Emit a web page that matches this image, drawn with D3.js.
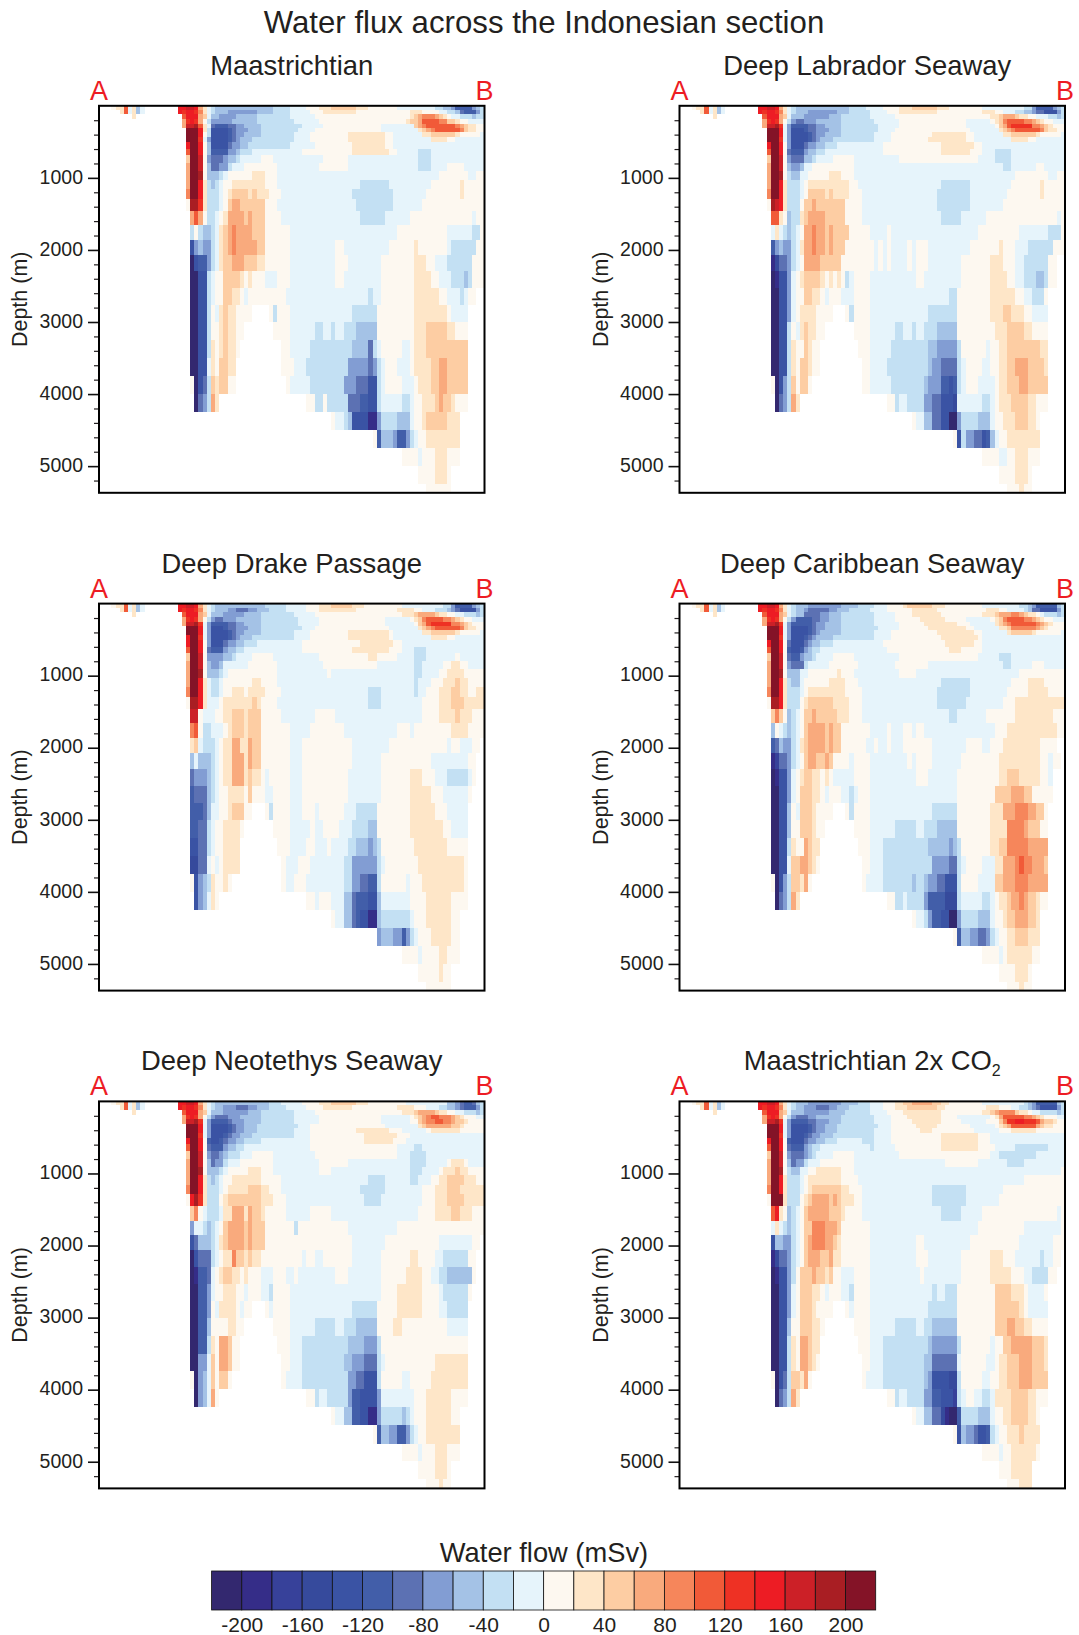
<!DOCTYPE html>
<html>
<head>
<meta charset="utf-8">
<script src="https://cdnjs.cloudflare.com/ajax/libs/d3/7.8.5/d3.min.js"></script>
<style>
html, body { margin: 0; padding: 0; background: #fff; }
svg { display: block; }
text { font-family: "Liberation Sans", Arial, sans-serif; fill: #231f20; }
</style>
</head>
<body>
<div id="chart"></div>
<script>
// colour classes of the water flow in mSv
var flowBreaks = [-200,-180,-160,-140,-120,-100,-80,-60,-40,-20,0,20,40,60,80,100,120,140,160,180,200];
var flowColors = ["#33286f","#352d88","#37419a","#364a9c","#3a53a4","#425ea9","#5c71b3","#829dd3","#a4c2e6","#c3e0f3","#e6f4fb",
                  "#fdf8f0","#fee6c8","#fdcda3","#f9aa7d","#f6865b","#f15a38","#ee3124","#ed1c24","#cc2027","#a91e23","#841327"];
var legendTicks = [-200,-160,-120,-80,-40,0,40,80,120,160,200];
var depthMajor = [1000,2000,3000,4000,5000];
var depthMinor = [200,400,600,800,1200,1400,1600,1800,2200,2400,2600,2800,3200,3400,3600,3800,4200,4400,4600,4800,5200];

var classLetters = "abcdefghijklmnopqrstuv";
var classValues = [-210,-190,-170,-150,-130,-110,-90,-70,-50,-30,-10,10,30,50,70,90,110,130,150,170,190,210];

// model level edges in metres
var levelEdges = [0,55,120,185,250,310,370,435,504,597,689,795,911,1027,1156,1290,1457,1656,1859,2068,2299,2530,2771,3006,3256,3501,3746,3996,4246,4496,4750,4995,5245,5365];
var columnCount = 93;
var depthBottom = 5370;

// one string per level, letter + run length along the section A to B
var maastrichtian = [
".3lm2qkmik.8s2t2somkji14j4k4l3m3n6m3l7k9j2i2hf4hij",
".5mqkmik.8srs2rpmkji3h7i4j4k5l3m8l13m3l4k2j2igf3hj",
".8m.11qs3onki2h4i5j8k6l23mnop3onmlk2j3ij2",
".20orsroljh5i6j9k6l21mn2oq4p2n2ml2k4",
".20ot2uqmkgf3g2h2i4j10k5l14k8nopq7ponm2l2",
".21v3smje4fgh3i3j9k4l16k9mnopq6pnm2l2",
".21v3slje4fgh2i4j8k4l9m9l2k7m2n6ml5k",
".21v3rkhe4fghi3j10k4l9m9l2k9m4l2k7",
".21sv2slie4gh2i2j10k6l9m8l2k22",
".21qv2slif4h2ij3k12l12m9l2k5j3k13",
".21nv2tlhg3hi2jk5l3k12l6k17j3k13",
".21ov2tlig2h2jk3l8k10l7k17j3k4l4k5",
".21ov2uli3jkl6m3l3k39l7k2l2",
".21ov2smjijkl2m8l3k20j7k10l7ml5",
".21pv2smj3klmn4mnm3l3k17j10k8l8ml5",
".21lu2rmj3klno2n6l3k19j9k7l15",
".22oqolj2klmo4non3l4k19j6k6l15kl2",
".22jlji2jkmnopo4n3l6k26l12k6j2l",
".22ehih2jkmnopo5n2l6k11l2k11l6ml7kj6l2",
".22aef2hjkmn2o3n3m2l6k11l3k8l8m3l2k3j6l3",
".22a2e2jkl2n4mlml3k3l3k11l2k9l8m4l2k3j3ijl3",
".22a2e2jkl2n2m2lkl9k20jk2l8m6l2k3jkl2.2",
".22a2e2jlkmnm2l4.4ljl3k15j6l9m8lk4.4",
".22a2e2jl2mnm2l2.7l4k6j2k2jk2j3i5l9m3n5m2l3.4",
".22a2e2jmlmnm2l.10l2k5j10i4gjkl5k2lm3n10.4",
".22a2e2kmln2m2.11l3k3j10h5ghjkl3k3lm4n2o2n5.4",
".22laegjnmn2l2.12lk5j8h3g3e2jkl4k3lm3n2o2n5.4",
".23aghjom.21l2j2lj5g3f2e2jk5j2kl2m3non2ml3.4",
".56lk2jie4b2hj4i3kl2mn5m3.6",
".66lfi3hf2hjkl2m8.6",
".73l4kl3m3l3.6",
".77l4m3l.8",
".79l6.8"];

var deepLabrador = [
".3lm2qkmik.8s2t2somkji13j4k4l4m3n6m3l8k10j2hf4hij",
".5mqkmik.8srs2rpmkji3h7i3j5k4l3m9l11m3l2k3j2i2hg2e3hj",
".8m.11qs3onki3h6i3j7k6l23m2no3nm2l2k3j2ij",
".20orsroljhg2h3i6j8k6l16k6lmnpq4p2onml2k3",
".20ot2urkhf4g2h2i4j9k5l16k7lnoqr5p2onml3",
".21v3skhe3fg2h3i3j9k4l18k7mnopq6pnm2l2",
".21v3skhe4fgh2i4j8k4l10m8l2k7m2n6ml5k",
".21v3rkhe4fghi3j10k4l9m9l2k9m4l2k7",
".21sv2slhe3gh2i2j3k11l14m8l2k20",
".21qv2slgf3hi2j2k14l14m7l3k3j4k13",
".21nv2tlhg3i2jk4l5k11l19k4j4k13",
".21ov2tlih2ik2l10k36j2k6l2k5",
".21ov2ulji2k2l5m3l3k39l8k2l2",
".21ov2smj3klm10l2k20j7k10l7ml5",
".21pv2smj3kln4mnm4l3k18j8k9l8ml5",
".21lutsmj3ln2on7l4k18j8k8l15",
".22q2mlij2mno4n5l4k19j5k6l17kl",
".22kmkjijklo2po2non4l5k4lk21l10k7j3l",
".22fhih2jkmo2po2non3l7klklk4lkl3k10l7ml3k3j6l3",
".22bdg2hjklo4n5l8klklk4lkl3k8l7m3l3k2j6l2.2",
".22abe2hklmn4mlmlmljkl4k11l2k9l7m4l2k2j3i2jl2.2",
".22a2e2hkl2n2m2lkl3k3l4k19j2l8m6l2k2j3l.4",
".22a2e2hklm4l4.3ljl4k14j7l8m3n2m3l2k4.4",
".22a2e2jlkmnm2l2.7l4k6j2k2jk2j3i5l9m3n4m2l4.4",
".22a2e2jml2nml2.9l3k5j9i2h5jl6kl2m2n8m2.4",
".22a2e2jmln2ml2.10l2k4j10ih2g4jkl4k2l2m2n2o3n4m.4",
".22laehjnln2l.12l2k5j8ih3f2efjkl3k4lm2n3o2n5.4",
".23aghjom.21l2jk2j4h2g2e3dk6j2klm3n4m2l3.4",
".56lk2i2g2e2a2hj4i3kl2m3n3m2l.6",
".66lejh2g2efikl2m8.6",
".73l4k2l2m3l3.6",
".77l4m3l.8",
".79l3ml2.8"];

var deepDrake = [
".3lm2qkmik.8s2t2somkji12j5k5l3m3n5m3l9k10j2hf4hij",
".5mqkmik.8srs2rpmkji3h2g3h2i3j4k5l3m9l10m4l2k3j3ihge4hj",
".8m.11qs3onki3h5i4j8k5l21m3no4nm2l2k2j3ij",
".20orsroljhg2h3i6j9k5l16k6lmnpq4p2onml2k3",
".20ot2urkhf4g2h2i4j9k5l16k7lnoqr5p2onml3",
".21v3skhe3fg2h3i3j10k3l18k7mnopq6pnm2l2",
".21v3skhe4fgh2i4j8k4l9m10lk7m2n6ml5k",
".21sv2rkhe4fghi3j10k4l9m10lk9m4l2k7",
".21sv2slhe3gh2i2j3k11l14m8l2k20",
".21qv2slgf3hi2j2k14l12m9l3k3j3k14",
".21nv2tlh4i2jk4l5k11l12m2l5k4j3k7lk6",
".21ov2tlih2ik6l7k11l13k9j2k5l2m2l2k4",
".21ov2uli3jkl12k12lk20j2k4l2m4l5",
".21ov2smkj2kl7m2l4k33jk3l3m3nm2l4",
".21pv2smkj2kl2m3lm4l4k21j3k8jk2l3m3n2m2l2m2",
".21lu2smk3lm7nml4k22j3k10l4m3n3m5",
".22t2lk3l2m2n3mn3l5k8l5k21l4m4nm3l3",
".22pqlj2k3lmn3mn3l7k5l8k13l3kl9m4l4",
".22mnkj3klm2o2m2on2l7k3l12k9l14kl2k3l2.",
".22iki3jklm2o3mon2l7k3l12k7l12k9l2.2",
".22gh3ijklm2o3mnm2lkl5k3l11k8l7m3l3k3j5kl.2",
".22fg3ijkl2m4lnl3k2l4k3l11k8l7m5l3k6l.3",
".22f3gik2l2mn3l2.3ljl4k3l3kl6k3j5l8m6l3k5.4",
".22f2g2jkl2m4l.7l4k5lk2l4k3j4i2l8m8l2k4.4",
".22e2g2jkl2m4.9l3k4l2k3lk4j2i3hijl8m8l5.4",
".22d2g2klklm4.10lk3l3k8j2h6jkl8m11l.4",
".22lehijml2ml.12lk2l3k9j2h2g2f2jl6kl3m10l.4",
".23ehikml.21l2kl3k3i2gf3e2ik7l4m6l4.4",
".56lk2i2gfe2b2ij7kl3m6l2.6",
".67hi3h2fhjkl3m5l2.6",
".73l4kl4m2l3.6",
".77l5ml2.8",
".79l6.8"];

var deepCaribbean = [
".3lm2qkmik.8s2t2somkji3h8i4j4k3l4mn6m3l9k9j2ihf5ij",
".5mqkmik.8srs2rpmkji2hg5h2i3j5k4l6m6l12m3l2k4jig2e4hj",
".8m.11qs3onkji2g4h2i3j8k5l4m7l10m3no3p2onm2lkj3ij",
".20orsroljhf4g2h2i3j8k5l6m6l5k6lmnpq4p2onml2k3",
".20ot2urkhf4fgh2i4j8k6l6m8l3k6mnopq6ponml3",
".21v3skhe4fgh2i4j9k5l7m9l2k6m2np6onml4",
".21v3skhe4fghi5j8k4l11m9l2k6mn5ml6k",
".21v3rkhe3fghi4j10k4l12m9lk20",
".21sv2slge3ghi2j3k12l15m7l2k20",
".21qv2slfe2fhij2k16l15m3l5k20",
".21nv2tlgf2hi2jk4l5k11l19k5j3k13",
".21ov2tlhg3jk5l7k9l8k18j2k5l3k5",
".21ov2uli3k2l7ml3k11l4k25l11",
".21ov2smji2kl6m4l3k20j7k10l4m4l5",
".21pv2smj3klm9l4k18j8k9l5m5l4",
".21lu2smj3lmn6m4l3k18j7k9l3m12",
".22npnlijkln2on5m3l3k21j2k7l7m9l3",
".22ilkjijklno4non2l7k4lk3l2kl2k17l3m12l2",
".22fgih2jkmno4non2l6k2lk2lk3l7k8l4k2l3m9l4.2",
".22bcg2hjklno2n2onl4kl4k9lkl4k7l9m10l2kl2.",
".22abe2hklmn2m2lmlk5l4k11l3k7l10m2n3m5l2k.3",
".22a2e2hkln3m2lkl3k2jkl3k21l9n4o3n2l5.3",
".22a2e2ilkn3ml4.3ljl4k15j6l8m3o3p3o2n2l.4",
".22a2e2il2n3ml2.7l4k6j5k2j3i5l8m4p4on3l2.4",
".22a2e2jml2onm2.9l3k3j11i5hijl7m2n2p5o5.4",
".22a2e2kn2o2nml.10l2k3j12h4g2jkl4k3m2o3pqp2o3n.4",
".22laehjn2mol.12lk4j7ij2ih2g2e3jl4k4n2o3p3o5.4",
".23aghjom.21l2j2kj4hf4d3jk5j2klm2no2pon2ml2.4",
".56lk2jhf2e2a2hj4i3kl2mn2o3n2m.6",
".66lfi2h2g2hjkl2m2n3m3.6",
".73l4klm6l2.6",
".77l4m3l.8",
".79l3ml2.8"];

var deepNeotethys = [
".3lm2qkmik.8s2t2somkji13j3k5l4m3n6m3l9k10i2hgf2gij",
".5mqkmik.8srs2rpmkji2h3g3h2i3j4k5l4m7l11m4l3k3j2i2hgf3hj",
".8m.11qs3onki3h6i3j8k5l21m3no4nm2l2k2j3ij",
".20orsroljhg3h3i5j8k6l15k7lmnopq2p3onml3k2",
".20ot2urkhf4gh3i4j8k6l15k7l2nop2q2p2on2ml4",
".21v3skhe4fgh2i3j10k3l18k8mno6n2ml5",
".21v3skhe4fgh2i3j9k4l11m8l3k6lm7l6",
".21v3rkhe3fgh2i3j10k4l13m8l3k18",
".21sv2slfe2fgh2i2j4k12l13m7l3k19",
".21qv2slgf3hi2j2k16l21k4j2k15",
".21nv2tlhg2hij3k3l5k10l20k3j4k14",
".21ov2tligh2jk3l8k11l7k15j4k5lm3lk4",
".21ov2uli3jkl5m3l3k11l3k19j3k4lm3nm2l4",
".21ov2smjijkl2m7l5k21j4k6j2k3l2m2n4m3l2",
".21pv2smj3klm5n3m2l3k19j6k9l3m3n3m6",
".21lsurmj3lmn8m3l3k19j4k10l3m3n4m5",
".22nplkj3km2o3mon2ml5k6l5k21l4m4n2m3l3",
".22hk2jijklno4non3l7jl12k12l21",
".22egi3jkmno4non3l21k8l13k8l2.",
".22aeg3jklm2pn2mnm2l10kl2k2l7k7l7m2l4k2j6l2.2",
".22abf2gklmn2m2lml3k3l3k2lk9l3k8l6m4l2k2j2i6l.2",
".22a2f2hkl2m3l2kl3k2jl4k22l4m6l4kj6l.3",
".22a2f2hlkm4lkl2.3lkl4k15j6l5m6l4k2j5.4",
".22a2f2il4m2l2.7l4k6j5k2j3i5l4m2l11k5.4",
".22a2f2jmlo2nl2.9l3k3j11i4h3jl21.4",
".22a2h2knlo2nl2.10l2k3j10i2h3g3jkl12m8.4",
".22lahiknln2l.12lk4j11h2g2e3jl5k2l5m9.4",
".23ahikol.21l2jk2j5hf2e4hk8l3m6l4.4",
".56lk2i2f2e2b2hj5ijkl3m6l2.6",
".66lfi2h2f2hjkl2m8.6",
".73l4kl3m3l3.6",
".77l4m3l.8",
".79l3ml2.8"];

var doubledCO2 = [
".3lm2qkmik.8s2t2somkji3h8i4j3k3l3m2n2o5n2m2l8k10jihf5ij",
".5mqkmik.8srs2rpmkji2h3g3h2i3j5k3l3m3n7m2l10m3l3k2j2ihge4hj",
".8m.11qs3onki3h6i4j6k4l4m9l10m2nop4nm2lk2j4ij",
".20orsroljhg3h2i6j8k4l4m8l4k8lmoq5p2onml3k2",
".20ot2urkhf4g2h3i3j8k4l5m7l5k6l3npr2s2r3qon2ml2",
".21v3skhe4fgh2i3j10k3l6m5l8k6lmnoq6onm2l3",
".21v3skhe4fgh2i3j9k4l7m3l10k6l3m6l7",
".21v3rkhe3fgh2i3j10k4l12m9l3k18",
".21sv2slfe3gh2i2j3k6j3k4l12m9l3k18",
".21qv2slgf3hij2k12jk5l11m9l4k5j8k4",
".21nv2tlhg3hijk4l5k11l22k2j9k7",
".21ov2tligh2jk3l8k22l8k7j4k10",
".21ov2ulji2k2l2m6l3k50l",
".21ov2smj3klm8l4k40l10",
".21pv2smj3klmn7m2l3k17j8k9l15",
".21lv3mj3lmno4nonm3l2k17j8k8l16",
".22qsmlijklno5n3ml4k19j5k5l18kl",
".22kmkjijkln2p3o3nl7k26l11k9l",
".22ei2h2jklnop3o2nml7k11l2k11l12k8l3",
".22bdg2hjklno3n2om2l7k11l3k8l7m3l3k6jk2l2.",
".22abe2hjln3on2mnl2k3l4k12lk9l7m5l3k2j4l2.2",
".22a2e2hkln3m2lkl3k2jl4k15jk2j3l9n4m3lk4l.4",
".22a2e2hkln3ml4.3lkl4k14j7l9n6mlk5.4",
".22a2e2il2n3m2l.7l4k6j5k2j2i6l9n3o2n2m2l4.4",
".22a2e2jmlo2nm2.9l3k3j11ih6jl7kl2n2o5n3m.4",
".22a2e2jmlo2nml.10l2k3j10i2g6kl6k2lm2n3o3n3m.4",
".22laegjn2mol.12lk4j10ihe4d2jl5k2l2m2n3o3n4.4",
".23aghjom.21l2jk2j4h2f2e3cjkl2k2j2km4n4m2l3.4",
".56lk2i2g2dba2fj4i3kl2m2n4m2l.6",
".66leih2ge2fjkl2m3nm4.6",
".73l4kl2m6l.6",
".77l3m5.8",
".79l3m3.8"];

var panelTitles = ["Maastrichtian","Deep Labrador Seaway","Deep Drake Passage","Deep Caribbean Seaway","Deep Neotethys Seaway","Maastrichtian 2x CO"];
var panelRows = [maastrichtian,deepLabrador,deepDrake,deepCaribbean,deepNeotethys,doubledCO2];

var svgWidth = 1079, svgHeight = 1635;
var plotWidth = 385.5, plotHeight = 387;
var colLeft = [99, 679.5];
var rowTop = [105.8, 603.6, 1101.4];
var titleShift = [0, -5, 0, 0, 0, 0];

var svg = d3.select("#chart").append("svg").attr("width", svgWidth).attr("height", svgHeight);

var color = d3.scaleThreshold().domain(flowBreaks).range(flowColors);
var xCol = d3.scaleLinear().domain([0, columnCount]).range([0, plotWidth]);
var yDepth = d3.scaleLinear().domain([0, depthBottom]).range([0, plotHeight]);

// turn one run-length row into cells
function decodeRow(row, level){
    var cells = [], col = 0, m, re = /([a-v.])(\d*)/g;
    while((m = re.exec(row)) !== null){
        var n = m[2] === "" ? 1 : +m[2];
        if(m[1] !== "."){
            var v = classValues[classLetters.indexOf(m[1])];
            for(var i = 0; i < n; i++){ cells.push({col: col + i, level: level, value: v}); }
        }
        col += n;
    }
    return cells;
}

function drawPanel(index){
    var left = colLeft[index % 2], top = rowTop[Math.floor(index / 2)];
    var g = svg.append("g").attr("transform", "translate(" + left + "," + top + ")");

    var cells = [];
    panelRows[index].forEach(function(row, level){ cells = cells.concat(decodeRow(row, level)); });

    g.append("g").attr("shape-rendering", "crispEdges").selectAll("rect").data(cells).enter().append("rect")
        .attr("x", function(d){ return xCol(d.col); })
        .attr("y", function(d){ return yDepth(levelEdges[d.level]); })
        .attr("width", function(d){ return xCol(d.col + 1) - xCol(d.col); })
        .attr("height", function(d){ return yDepth(levelEdges[d.level + 1]) - yDepth(levelEdges[d.level]); })
        .attr("fill", function(d){ return color(d.value); });

    var minor = d3.axisLeft(yDepth).tickValues(depthMinor).tickSize(5).tickFormat("");
    var major = d3.axisLeft(yDepth).tickValues(depthMajor).tickSize(11).tickPadding(5).tickFormat(String);
    var minorG = g.append("g").call(minor);
    var majorG = g.append("g").call(major);
    minorG.select(".domain").remove();
    majorG.select(".domain").remove();
    minorG.selectAll("line").attr("stroke", "#231f20").attr("stroke-width", 1.2);
    majorG.selectAll("line").attr("stroke", "#111").attr("stroke-width", 1.6);
    majorG.selectAll("text").attr("font-size", 19.5).attr("font-family", "'Liberation Sans'").attr("fill", "#231f20").attr("dy", "0.27em");

    g.append("rect").attr("width", plotWidth).attr("height", plotHeight)
        .attr("fill", "none").attr("stroke", "#000").attr("stroke-width", 2);

    var title = g.append("text").attr("x", plotWidth / 2 + titleShift[index]).attr("y", -31).attr("text-anchor", "middle")
        .attr("font-size", 27.4).text(panelTitles[index]);
    if(index === 5){
        title.append("tspan").attr("font-size", 16).attr("dy", 6).text("2");
    }

    g.append("text").attr("x", 0).attr("y", -6).attr("text-anchor", "middle").attr("font-size", 27)
        .style("fill", "#ed1c24").text("A");
    g.append("text").attr("x", plotWidth).attr("y", -6).attr("text-anchor", "middle").attr("font-size", 27)
        .style("fill", "#ed1c24").text("B");

    g.append("text").attr("transform", "translate(-72," + (plotHeight * 0.5) + ") rotate(-90)")
        .attr("text-anchor", "middle").attr("font-size", 21.5).text("Depth (m)");
}

panelRows.forEach(function(rows, i){ drawPanel(i); });

svg.append("text").attr("x", 544).attr("y", 33).attr("text-anchor", "middle").attr("font-size", 31.2)
    .text("Water flux across the Indonesian section");

// colour bar
var legendX = d3.scaleLinear().domain([-220, 220]).range([211.6, 875.7]);
var legendEdges = [-220].concat(flowBreaks);
var legend = svg.append("g").attr("transform", "translate(0,1571)");
legend.selectAll("rect").data(flowColors).enter().append("rect")
    .attr("x", function(d, i){ return legendX(legendEdges[i]); })
    .attr("y", 0)
    .attr("width", function(d, i){ return legendX(legendEdges[i] + 20) - legendX(legendEdges[i]); })
    .attr("height", 39)
    .attr("fill", function(d){ return d; })
    .attr("stroke", "#111").attr("stroke-width", 0.8);
var legendAxis = d3.axisBottom(legendX).tickValues(legendTicks).tickSize(0).tickPadding(7).tickFormat(String);
var legendG = legend.append("g").attr("transform", "translate(0,39)").call(legendAxis);
legendG.select(".domain").remove();
legendG.selectAll("text").attr("font-size", 21).attr("font-family", "'Liberation Sans'").attr("fill", "#231f20");

svg.append("text").attr("x", 544).attr("y", 1562).attr("text-anchor", "middle").attr("font-size", 27.3)
    .text("Water flow (mSv)");
</script>
</body>
</html>
